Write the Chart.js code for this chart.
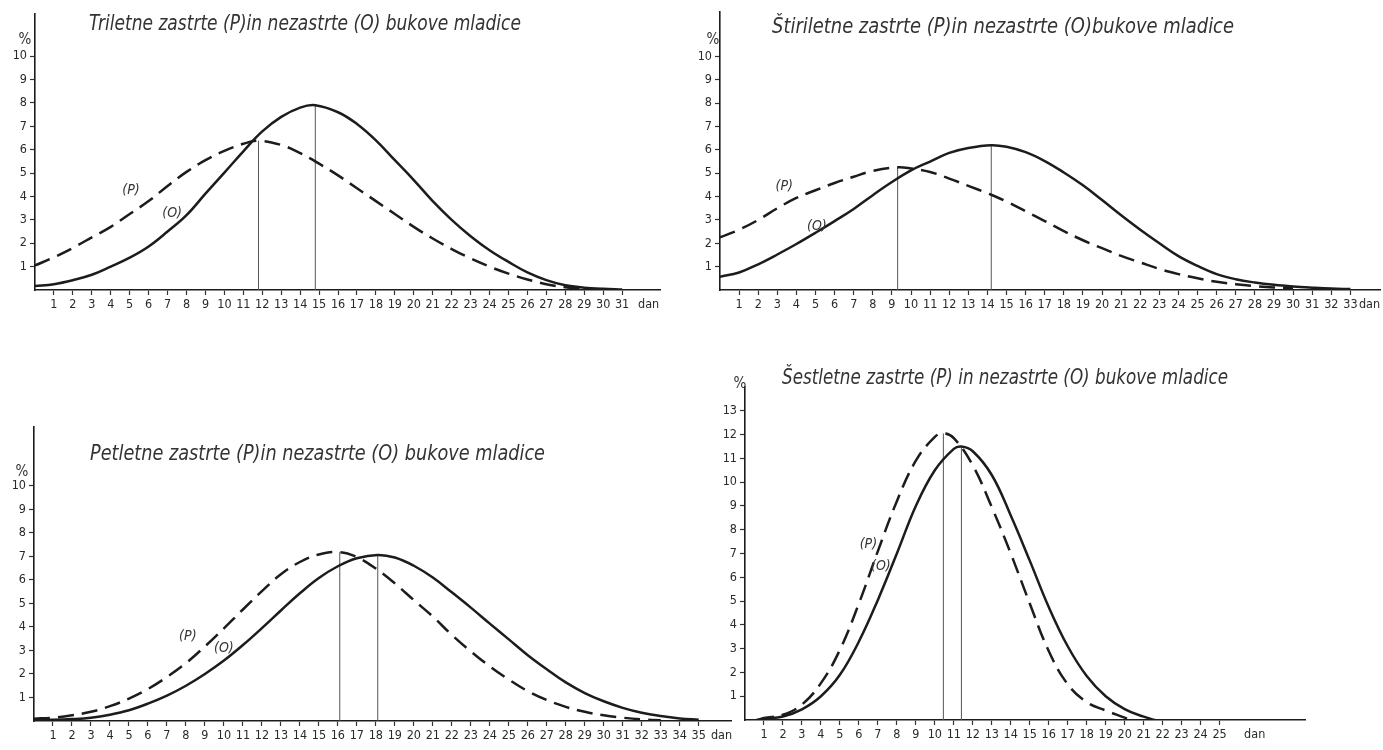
<!DOCTYPE html>
<html><head><meta charset="utf-8">
<script src="https://cdn.jsdelivr.net/npm/chart.js@4/dist/chart.umd.min.js"></script>
<style>
html,body{margin:0;padding:0;background:#fff}
body{width:1383px;height:750px;overflow:hidden;position:relative}
canvas{position:absolute}
</style></head><body>
<canvas id="c1" width="690" height="330" style="left:0;top:0"></canvas>
<canvas id="c2" width="693" height="330" style="left:690px;top:0"></canvas>
<canvas id="c3" width="745" height="370" style="left:0;top:380px"></canvas>
<canvas id="c4" width="683" height="390" style="left:700px;top:360px"></canvas>
<script>
// ---------- DATA ----------
// Panel 1: Triletne
const daysP1 = [0,1,2,3,4,5,6,7,8,9,10,11,11.8,13,14,15,16,17,18,19,20,21,22,23,24,25,26,27,28,29,30];
const valsP1 = [1.05,1.4,1.8,2.25,2.7,3.25,3.8,4.45,5.05,5.55,5.95,6.25,6.38,6.2,5.85,5.4,4.9,4.35,3.8,3.25,2.7,2.2,1.75,1.35,1.0,0.7,0.45,0.25,0.12,0.06,0.03];
const daysO1 = [0,1,2,3,4,5,6,7,8,9,10,11,12,13,14,14.8,16,17,18,19,20,21,22,23,24,25,26,27,28,29,30,31];
const valsO1 = [0.17,0.25,0.42,0.65,1.0,1.38,1.86,2.5,3.2,4.12,5.02,5.93,6.78,7.4,7.8,7.9,7.6,7.1,6.4,5.55,4.7,3.8,3.0,2.3,1.7,1.2,0.75,0.42,0.2,0.1,0.05,0.02];
const modes1 = [11.8, 14.8];
const peaks1 = [6.38, 7.9];

// Panel 2: Štiriletne
const daysP2 = [0,1,2,3,4,5,6,7,8,9.3,10,11,12,13,14,15,16,17,18,19,20,21,22,23,24,25,26,27,28,29,30];
const valsP2 = [2.25,2.58,3.0,3.5,3.94,4.27,4.58,4.85,5.1,5.25,5.2,5.05,4.77,4.46,4.14,3.79,3.37,2.95,2.52,2.13,1.79,1.46,1.18,0.9,0.68,0.5,0.35,0.25,0.17,0.11,0.07];
const daysO2 = [0,1,2,3,4,5,6,7,8,9,10,11,12,13,14.2,15,16,17,18,19,20,21,22,23,24,25,26,27,28,29,30,31,32,33];
const valsO2 = [0.57,0.75,1.1,1.52,1.97,2.45,2.95,3.47,4.06,4.62,5.12,5.5,5.87,6.08,6.2,6.13,5.9,5.52,5.03,4.48,3.85,3.2,2.58,2.0,1.45,1.03,0.68,0.46,0.32,0.22,0.15,0.1,0.06,0.04];
const modes2 = [9.3, 14.2];
const peaks2 = [5.25, 6.2];

// Panel 3: Petletne
const daysP3 = [0,1,2,3,4,5,6,7,8,9,10,11,12,13,14,15,16.1,17,18,19,20,21,22,23,24,25,26,27,28,29,30,31,32,33];
const valsP3 = [0.1,0.14,0.24,0.39,0.63,0.95,1.36,1.87,2.46,3.17,3.94,4.74,5.52,6.24,6.76,7.08,7.18,6.97,6.48,5.85,5.14,4.44,3.66,2.96,2.32,1.76,1.27,0.89,0.6,0.39,0.24,0.14,0.07,0.03];
const daysO3 = [0,1,2,3,4,5,6,7,8,9,10,11,12,13,14,15,16,17,18.1,19,20,21,22,23,24,25,26,27,28,29,30,31,32,33,34,35];
const valsO3 = [0.04,0.05,0.08,0.14,0.27,0.46,0.74,1.08,1.5,2.0,2.57,3.23,3.95,4.7,5.43,6.08,6.58,6.92,7.06,6.95,6.6,6.1,5.47,4.82,4.14,3.47,2.8,2.2,1.64,1.19,0.84,0.56,0.35,0.21,0.11,0.05];
const modes3 = [16.1, 18.1];
const peaks3 = [7.18, 7.06];

// Panel 4: Šestletne
const daysP4 = [0.7,1,2,3,4,5,6,7,8,9,10,10.45,11,12,13,14,15,16,17,18,19,20,20.3];
const valsP4 = [0,0.08,0.22,0.65,1.55,2.95,4.9,7.1,9.2,10.9,11.9,12.05,11.85,10.7,8.95,7.0,4.9,2.9,1.5,0.75,0.4,0.1,0];
const daysO4 = [0.6,1,2,3,4,5,6,7,8,9,10,11,11.4,12,13,14,15,16,17,18,19,20,21,21.6];
const valsO4 = [0,0.05,0.15,0.45,1.0,1.9,3.3,5.05,7.0,9.0,10.5,11.4,11.5,11.3,10.3,8.6,6.7,4.75,3.1,1.85,1.0,0.46,0.14,0];
const modes4 = [10.45, 11.4];
const peaks4 = [12.05, 11.5];

// Tick labels
const xTicks1 = [1,2,3,4,5,6,7,8,9,10,11,12,13,14,15,16,17,18,19,20,21,22,23,24,25,26,27,28,29,30,31];
const xTicks2 = [1,2,3,4,5,6,7,8,9,10,11,12,13,14,15,16,17,18,19,20,21,22,23,24,25,26,27,28,29,30,31,32,33];
const xTicks3 = [1,2,3,4,5,6,7,8,9,10,11,12,13,14,15,16,17,18,19,20,21,22,23,24,25,26,27,28,29,30,31,32,33,34,35];
const xTicks4 = [1,2,3,4,5,6,7,8,9,10,11,12,13,14,15,16,17,18,19,20,21,22,23,24,25];
const yTicks10 = [1,2,3,4,5,6,7,8,9,10];
const yTicks13 = [1,2,3,4,5,6,7,8,9,10,11,12,13];
const unitLabel = 'dan';

const titles = [
  'Triletne zastrte (P)in nezastrte (O) bukove mladice',
  'Štiriletne zastrte (P)in nezastrte (O)bukove mladice',
  'Petletne zastrte (P)in nezastrte (O) bukove mladice',
  'Šestletne zastrte (P) in nezastrte (O) bukove mladice'
];

// ---------- RENDER ----------
const INK = '#1c1c1c';
const FONT = "'Liberation Sans Narrow','DejaVu Sans Condensed','Roboto',sans-serif";
Chart.defaults.font.family = FONT;
Chart.defaults.color = '#2a2a2a';

function pts(xs, ys){ return xs.map((x,i)=>({x:x, y:ys[i]})); }

const textPlugin = {
  id:'texts',
  afterDraw(chart){
    const o = chart.options.plugins.texts; if(!o) return;
    const ctx = chart.ctx; ctx.save();
    ctx.fillStyle = '#333';
    ctx.textBaseline = 'middle';
    ctx.textAlign = 'left';
    ctx.font = 'italic ' + o.title.size + 'px ' + FONT;
    ctx.fillText(o.title.text, o.title.x, o.title.y, o.title.w);
    ctx.font = '15px ' + FONT; ctx.textAlign = 'center';
    ctx.fillText('%', o.pct[0], o.pct[1]);
    ctx.font = 'italic 14px ' + FONT;
    const xs = chart.scales.x, ys = chart.scales.y;
    o.labels.forEach(l => ctx.fillText(l.t, xs.getPixelForValue(l.x), ys.getPixelForValue(l.y)));
    ctx.restore();
  }
};

function make(id, cfg){
  const ds = [
    {data: pts(cfg.dP, cfg.vP), borderColor: INK, borderWidth: 2.5, borderDash:[16,8], pointRadius:0, tension:0.4, fill:false},
    {data: pts(cfg.dO, cfg.vO), borderColor: INK, borderWidth: 2.5, pointRadius:0, tension:0.4, fill:false},
    {data: [{x:cfg.modes[0],y:0},{x:cfg.modes[0],y:cfg.peaks[0]}], borderColor:'#555', borderWidth:1, pointRadius:0, tension:0},
    {data: [{x:cfg.modes[1],y:0},{x:cfg.modes[1],y:cfg.peaks[1]}], borderColor:'#555', borderWidth:1, pointRadius:0, tension:0}
  ];
  const xt = cfg.xTicks.concat([cfg.danAt]);
  new Chart(document.getElementById(id), {
    type:'line',
    data:{datasets: ds},
    options:{
      responsive:false, animation:false, devicePixelRatio:1,
      layout:{padding: cfg.pad},
      plugins:{legend:{display:false}, tooltip:{enabled:false}, title:{display:false},
        texts:{title:cfg.title, pct:cfg.pct, labels:cfg.labels}},
      scales:{
        x:{type:'linear', min:0, max:cfg.xMax,
          afterBuildTicks: s => { s.ticks = xt.map(v=>({value:v})); },
          afterFit: s => { s.height = 25; },
          ticks:{autoSkip:false, maxRotation:0, padding:2, color:'#2a2a2a',
            font:{size:12.5},
            callback: v => v === cfg.danAt ? unitLabel : String(v)},
          grid:{drawOnChartArea:false, drawTicks:true, tickLength:5, tickWidth:1.2,
            tickColor: c => (c.tick && c.tick.value === cfg.danAt) ? 'rgba(0,0,0,0)' : '#333'},
          border:{display:true, color:INK, width:1.6}
        },
        y:{type:'linear', min:0, max:cfg.yMax,
          afterBuildTicks: s => { s.ticks = cfg.yTicks.map(v=>({value:v})); },
          afterFit: s => { s.width = 30; },
          ticks:{autoSkip:false, padding:3, color:'#2a2a2a', font:{size:12.5}},
          grid:{drawOnChartArea:false, drawTicks:true, tickLength:5, tickWidth:1.2, tickColor:'#333'},
          border:{display:true, color:INK, width:1.6}
        }
      }
    },
    plugins:[textPlugin]
  });
}

make('c1', {dP:daysP1, vP:valsP1, dO:daysO1, vO:valsO1, modes:modes1, peaks:peaks1,
  xTicks:xTicks1, danAt:32.4, xMax:33, yMax:11.8, yTicks:yTicks10,
  pad:{left:5, top:14, right:30, bottom:15},
  title:{text:titles[0], x:89, y:24, w:432, size:22}, pct:[25,40],
  labels:[{t:'(P)', x:5.07, y:4.27},{t:'(O)', x:7.24, y:3.29}]});

make('c2', {dP:daysP2, vP:valsP2, dO:daysO2, vO:valsO2, modes:modes2, peaks:peaks2,
  xTicks:xTicks2, danAt:34.0, xMax:34.55, yMax:11.9, yTicks:yTicks10,
  pad:{left:0, top:12, right:3, bottom:15},
  title:{text:titles[1], x:82, y:27, w:462, size:22}, pct:[23,40],
  labels:[{t:'(P)', x:3.36, y:4.44},{t:'(O)', x:5.07, y:2.74}]});

make('c3', {dP:daysP3, vP:valsP3, dO:daysO3, vO:valsO3, modes:modes3, peaks:peaks3,
  xTicks:xTicks3, danAt:36.2, xMax:36.7, yMax:12.5, yTicks:yTicks10,
  pad:{left:4, top:47, right:14, bottom:4},
  title:{text:titles[2], x:90, y:75, w:455, size:21}, pct:[22,92],
  labels:[{t:'(P)', x:8.1, y:3.6},{t:'(O)', x:10.0, y:3.1}]});

make('c4', {dP:daysP4, vP:valsP4, dO:daysO4, vO:valsO4, modes:modes4, peaks:peaks4,
  xTicks:xTicks4, danAt:26.85, xMax:29.5, yMax:14, yTicks:yTicks13,
  pad:{left:15, top:27, right:78, bottom:5},
  title:{text:titles[3], x:82, y:19, w:446, size:21}, pct:[40,24],
  labels:[{t:'(P)', x:6.5, y:7.37},{t:'(O)', x:7.16, y:6.44}]});
</script>
</body></html>
